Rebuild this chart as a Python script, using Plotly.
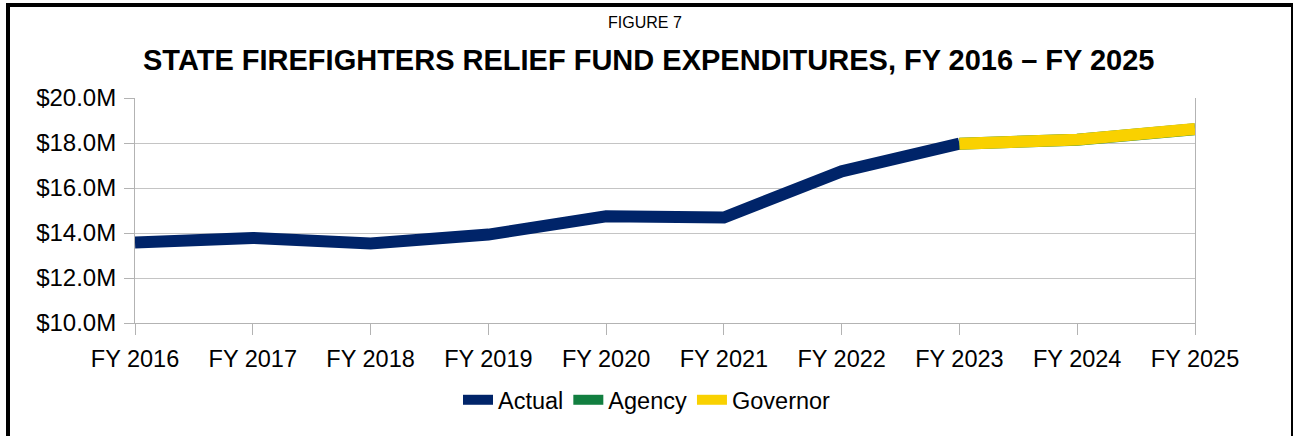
import plotly.graph_objects as go

categories = ["FY 2016", "FY 2017", "FY 2018", "FY 2019", "FY 2020",
              "FY 2021", "FY 2022", "FY 2023", "FY 2024", "FY 2025"]
actual = [13.58, 13.78, 13.53, 13.93, 14.74, 14.69, 16.74, 17.97, None, None]
agency = [None, None, None, None, None, None, None, 17.97, 18.14, 18.61]
governor = [None, None, None, None, None, None, None, 17.97, 18.15, 18.62]
y_ticks = [10, 12, 14, 16, 18, 20]
y_tick_labels = ["$10.0M", "$12.0M", "$14.0M", "$16.0M", "$18.0M", "$20.0M"]

W, H = 1293, 436
L, R, T, B = 135, 98, 98, 113
pw, ph = W - L - R, H - T - B

def px(x):
    return (x - L) / pw

def py(y):
    return (H - B - y) / ph

FONT = "Liberation Sans, Arial, sans-serif"
TICK = 23.5

fig = go.Figure()
fig.add_trace(go.Scatter(x=categories, y=actual, name="Actual", mode="lines",
                         line=dict(color="#002469", width=12)))
fig.add_trace(go.Scatter(x=categories, y=agency, name="Agency", mode="lines",
                         line=dict(color="#127f40", width=12)))
fig.add_trace(go.Scatter(x=categories, y=governor, name="Governor", mode="lines",
                         line=dict(color="#f9d100", width=12)))

fig.update_layout(
    width=W, height=H,
    margin=dict(l=L, r=R, t=T, b=B, pad=0),
    paper_bgcolor="white", plot_bgcolor="white",
    font=dict(family=FONT, color="black", size=TICK),
    showlegend=True,
    legend=dict(orientation="h", x=px(647), xanchor="center", y=py(400), yanchor="middle",
                font=dict(size=TICK, family=FONT), itemwidth=30, tracegroupgap=0,
                bgcolor="rgba(0,0,0,0)"),
    xaxis=dict(type="category", range=[0, 9], showgrid=False,
               showline=True, linecolor="#b3b3b3", linewidth=1,
               ticks="outside", ticklen=11, tickcolor="#b3b3b3", tickwidth=1,
               ticklabelstandoff=4,
               tickfont=dict(size=TICK, family=FONT), zeroline=False, fixedrange=True),
    yaxis=dict(range=[10, 20], tickvals=y_ticks, ticktext=y_tick_labels,
               showgrid=True, gridcolor="#c4c4c4", gridwidth=1,
               showline=True, linecolor="#b3b3b3", linewidth=1, mirror=True,
               ticks="outside", ticklen=10, tickcolor="#b3b3b3", tickwidth=1,
               ticklabelstandoff=3,
               tickfont=dict(size=24, family=FONT), zeroline=False, fixedrange=True),
    shapes=[dict(type="rect", xref="paper", yref="paper",
                 x0=px(8), x1=px(1293), y0=py(445), y1=py(5),
                 line=dict(color="black", width=4), fillcolor="rgba(0,0,0,0)", layer="above")],
    annotations=[
        dict(text="FIGURE 7", xref="paper", yref="paper", x=px(645), y=py(22),
             xanchor="center", yanchor="middle", showarrow=False,
             font=dict(size=16, family=FONT, color="black")),
        dict(text="<b>STATE FIREFIGHTERS RELIEF FUND EXPENDITURES, FY 2016 – FY 2025</b>",
             xref="paper", yref="paper", x=px(648), y=py(60),
             xanchor="center", yanchor="middle", showarrow=False,
             font=dict(size=29, family=FONT, color="black")),
    ],
)

fig.write_html("out.html", config={"displayModeBar": False},
               post_script="document.body.style.margin='0';document.body.style.overflow='hidden';")
